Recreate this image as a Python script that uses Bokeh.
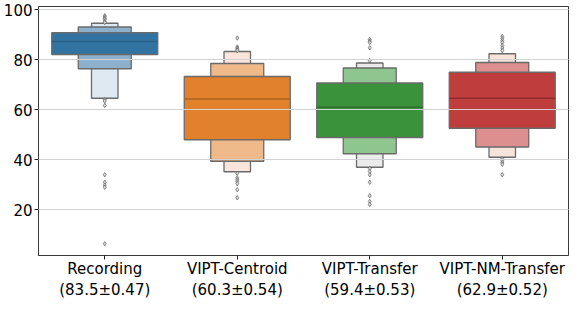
from bokeh.plotting import figure
from bokeh.models import ColumnDataSource, FixedTicker, Range1d
from bokeh.embed import file_html
from bokeh.resources import INLINE

categories = ["Recording", "VIPT-Centroid", "VIPT-Transfer", "VIPT-NM-Transfer"]
score_labels = ["(83.5±0.47)", "(60.3±0.54)", "(59.4±0.53)", "(62.9±0.52)"]

median = [87.2, 64.2, 60.9, 64.5]
lv1_low = [82.0, 47.9, 48.8, 52.5]
lv1_high = [90.7, 73.2, 70.6, 74.9]
lv2_low = [76.3, 39.3, 42.3, 45.0]
lv2_high = [93.0, 78.4, 76.6, 78.8]
lv3_low = [64.5, 35.1, 36.9, 40.9]
lv3_high = [94.5, 83.2, 78.6, 82.3]

outliers_recording = [97.5, 97.0, 96.5, 96.0, 95.3, 94.8, 64.0, 63.4, 61.6, 33.9, 30.9, 29.7, 28.9, 6.3]
outliers_centroid = [88.6, 85.0, 84.5, 84.0, 83.6, 34.5, 32.7, 31.9, 31.2, 30.4, 27.9, 24.7]
outliers_transfer = [88.0, 87.3, 86.8, 84.7, 79.6, 36.4, 35.2, 33.9, 30.9, 25.5, 23.2, 22.0]
outliers_nm = [89.2, 88.4, 87.6, 86.8, 85.6, 84.6, 83.6, 40.3, 39.5, 38.7, 38.1, 33.9]
outliers = [outliers_recording, outliers_centroid, outliers_transfer, outliers_nm]

y_ticks = [20, 40, 60, 80, 100]

# styles
lv_colors = [
    ["#3274a1", "#e1812c", "#3a923a", "#c03d3e"],
    ["#8db1cd", "#efb98a", "#8fc68f", "#dd8e8e"],
    ["#dfe9f1", "#f9e5dc", "#ebebeb", "#f7e2dc"],
]
median_colors = ["#2a5f86", "#b2621f", "#2e6e2e", "#8f2d2e"]
lv_widths = [0.8, 0.4, 0.2]
FONT = "DejaVu Sans"

xs = list(range(len(categories)))

p = figure(width=570, height=302, output_backend="svg", toolbar_location=None,
           x_range=Range1d(-0.5, 3.5), y_range=Range1d(1.6, 101.2),
           min_border_left=0, min_border_right=2, min_border_top=6, min_border_bottom=0)
p.background_fill_color = "white"
p.border_fill_color = "white"
p.outline_line_color = "#3a3a3a"
p.outline_line_width = 1

lows = [lv1_low, lv2_low, lv3_low]
highs = [lv1_high, lv2_high, lv3_high]
for lvl in [2, 1, 0]:
    src = ColumnDataSource(dict(x=xs, bottom=lows[lvl], top=highs[lvl], color=lv_colors[lvl]))
    p.vbar(x="x", width=lv_widths[lvl], bottom="bottom", top="top", source=src,
           fill_color="color", line_color="#6a6a6a", line_width=1.3)

msrc = ColumnDataSource(dict(x0=[x - lv_widths[0] / 2 for x in xs],
                             x1=[x + lv_widths[0] / 2 for x in xs],
                             y=median, color=median_colors))
p.segment(x0="x0", x1="x1", y0="y", y1="y", source=msrc, line_color="color", line_width=1.5)

ox, oy = [], []
for i, vals in enumerate(outliers):
    ox += [xs[i]] * len(vals)
    oy += vals
p.scatter(ox, oy, marker="diamond", size=4.5, line_color="#606060", fill_color="#d8d8d8", line_width=0.7)

p.xgrid.visible = False
p.ygrid.grid_line_color = "#d3d3d3"
p.ygrid.grid_line_width = 1
p.ygrid.level = "annotation"
p.yaxis.ticker = FixedTicker(ticks=y_ticks)
p.xaxis.ticker = FixedTicker(ticks=xs)
p.xaxis.major_label_overrides = {x: f"{c}\n{s}" for x, c, s in zip(xs, categories, score_labels)}

for ax in [p.xaxis[0], p.yaxis[0]]:
    ax.major_label_text_font = FONT
    ax.major_label_text_font_size = "15px"
    ax.major_label_text_color = "black"
    ax.major_tick_in = 0
    ax.major_tick_out = 4
    ax.major_tick_line_color = "#222222"
    ax.minor_tick_line_color = None
    ax.axis_line_color = "#3a3a3a"
p.xaxis.major_label_standoff = 0
p.yaxis.major_label_standoff = 2

open("out.html", "w").write(file_html(p, INLINE))
